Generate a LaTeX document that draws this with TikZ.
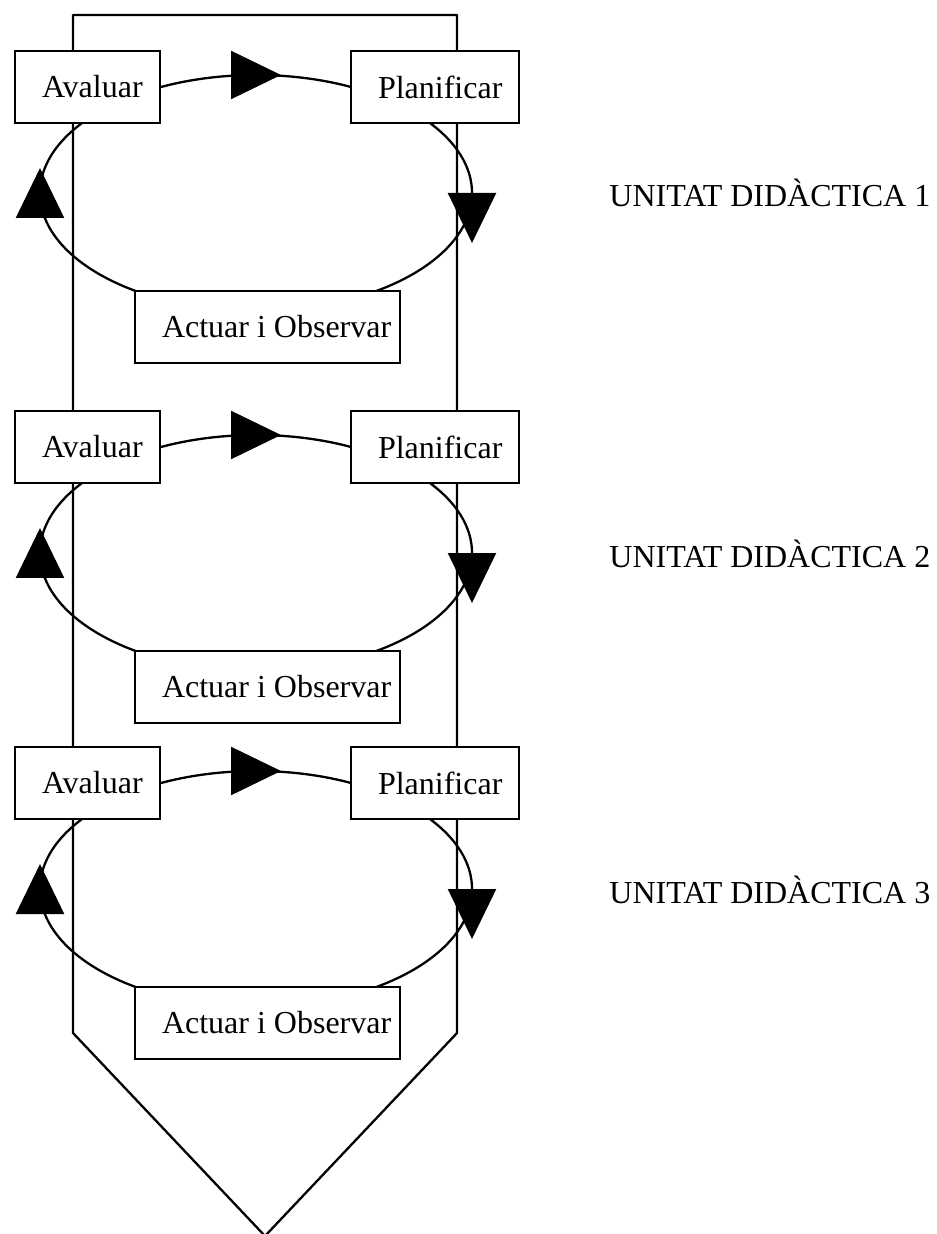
\documentclass[tikz,border=0pt]{standalone}
\usepackage{fontspec}
\setmainfont{Liberation Serif}
\usetikzlibrary{calc}
\usetikzlibrary{arrows.meta,decorations.markings}

\begin{document}
\begin{tikzpicture}
% pixel grid, y pointing down
[
    x=0.5pt,y=-0.5pt,
    font=\fontsize{16}{19}\selectfont,
    box/.style={draw,fill=white,line width=1.15pt,inner xsep=13.5pt,inner ysep=0pt,
      minimum height=36pt,outer sep=0pt,anchor=north west},
    loop/.style={line width=1.15pt,postaction={decorate},
      decoration={markings,
        mark=at position 0 with {\arrow[xshift=25pt]{Triangle[width=24pt,length=25pt]}},
        mark=at position 0.5 with {\arrow[xshift=12.5pt]{Triangle[width=24pt,length=25pt]}},
        mark=at position 0.75 with {\arrow[xshift=12.5pt]{Triangle[width=24pt,length=25pt]}}
      }
    }
]
\useasboundingbox (0,0) rectangle (936,1234);

% frame
\coordinate (F1) at (73,15);
\coordinate (F2) at (457,15);
\coordinate (F) at (265,1236);
\draw[line width=1.15pt,line join=round] (F) -- ($(F1)+(0,1018)$) -- (F1) -- (F2) -- ($(F2)+(0,1018)$) -- cycle;

% one cycle per unit
\foreach \t/\n in {51/1,411/2,747/3}{
  \coordinate (T\n) at (0,\t);
  \draw[loop] ($(T\n)+(256,142)$) ellipse [x radius=216,y radius=118];
  \node[box] (av\n) at ($(T\n)+(15,0)$) {\makebox[45.5pt][l]{Avaluar}};
  \node[box] (pl\n) at ($(T\n)+(351,0)$) {\makebox[57pt][l]{Planificar}};
  \node[box] (ac\n) at ($(T\n)+(135,240)$) {\makebox[105.5pt][l]{Actuar i Observar}};
  \node[anchor=base west,inner sep=0pt] (ud\n) at ($(T\n)+(609,156)$) {UNITAT DIDÀCTICA \n};
}
\end{tikzpicture}
\end{document}
